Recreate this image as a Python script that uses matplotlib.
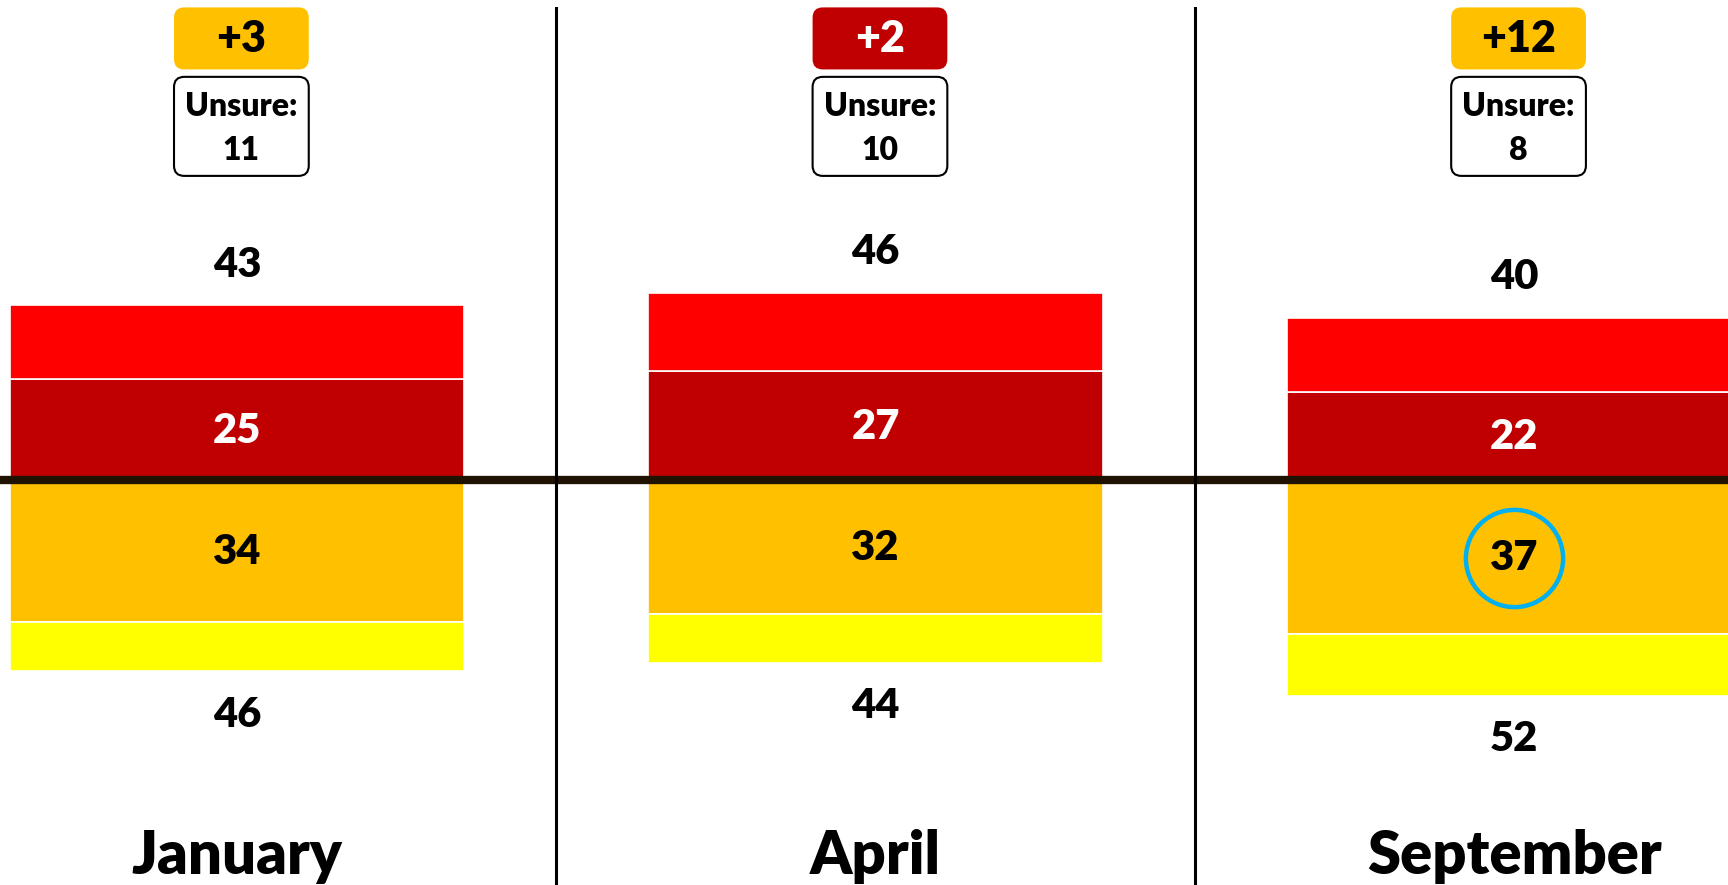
#!/usr/bin/env python

import numpy as np
import matplotlib.pyplot as plt
from matplotlib.patches import FancyBboxPatch

plt.rcParams['font.family'] = ['Lato', 'DejaVu Sans']
plt.rcParams['font.weight'] = 'bold'

months = ["January", "April", "September"]
top_total = np.array([43, 46, 40])       # red + dark red
top_strong = np.array([25, 27, 22])      # dark red part
bottom_strong = np.array([34, 32, 37])   # orange part
bottom_total = np.array([46, 44, 52])    # orange + yellow
unsure = [11, 10, 8]

RED = "#FF0000"
DARKRED = "#C00000"
ORANGE = "#FFC000"
YELLOW = "#FFFF00"

fig = plt.figure(figsize=(17.28, 8.85), dpi=100)
ax = fig.add_axes([0, 0, 1, 1])

x = np.arange(len(months))
w = 0.711
# px per unit: x 638.5, y 4.11
ax.set_xlim(-0.371, 2.335)
ax.set_ylim(-98.05, 117.3)
ax.axis("off")

ax.bar(x, top_strong, w, color=DARKRED, edgecolor="white", linewidth=1.2)
ax.bar(x, top_total - top_strong, w, bottom=top_strong, color=RED, edgecolor="white", linewidth=1.2)
ax.bar(x, -bottom_strong, w, color=ORANGE, edgecolor="white", linewidth=1.2)
ax.bar(x, -(bottom_total - bottom_strong), w, bottom=-bottom_strong, color=YELLOW,
       edgecolor="white", linewidth=1.2)

ax.axhline(0.4, color="#1f1200", lw=6, zorder=5)
for s in [0.5, 1.5]:
    ax.axvline(s, ymin=0, ymax=0.991, color="black", lw=2.2, zorder=6)

num_fs = 30
wt = "heavy"
for i in x:
    ax.text(i, top_strong[i] / 2, str(top_strong[i]), ha="center", va="center",
            fontsize=num_fs, color="white", fontweight=wt)
    ax.text(i, -bottom_strong[i] / 2, str(bottom_strong[i]), ha="center", va="center",
            fontsize=num_fs, color="black", fontweight=wt)
    ax.text(i, top_total[i] + 9.9, str(top_total[i]), ha="center", va="center",
            fontsize=num_fs, fontweight=wt)
    ax.text(i, -bottom_total[i] - 10.6, str(bottom_total[i]), ha="center", va="center",
            fontsize=num_fs, fontweight=wt)
    ax.text(i, -95.3, months[i], ha="center", va="baseline", fontsize=43, fontweight=wt)

    # margin badge
    diff = int(top_total[i] - bottom_total[i])
    bcol = DARKRED if diff > 0 else ORANGE
    tcol = "white" if diff > 0 else "black"
    bw = 0.211
    aspect = 638.5 / 4.11
    ax.add_patch(FancyBboxPatch((i - bw / 2 + 0.007, 100.4), bw, 15.1,
                                boxstyle="round,pad=0,rounding_size=0.016",
                                mutation_aspect=aspect, fc=bcol, ec="none", zorder=7))
    ax.text(i + 0.007, 107.9, "+%d" % abs(diff), ha="center", va="center",
            fontsize=31, color=tcol, fontweight=wt, zorder=8)

    ax.add_patch(FancyBboxPatch((i - bw / 2 + 0.007, 74.5), bw, 24.1,
                                boxstyle="round,pad=0,rounding_size=0.016",
                                mutation_aspect=aspect, fc="white", ec="black", lw=1.5, zorder=7))
    ax.text(i + 0.007, 91.3, "Unsure:", ha="center", va="center", fontsize=23,
            fontweight=wt, zorder=8)
    ax.text(i + 0.007, 80.8, str(unsure[i]), ha="center", va="center", fontsize=23,
            fontweight=wt, zorder=8)

# highlight circle on September orange value
ax.plot([2], [-bottom_strong[2] / 2], marker="o", markersize=70, mfc="none",
        mec="#00B0F0", mew=3.2, zorder=9)

fig.savefig("out.png", dpi=100)
